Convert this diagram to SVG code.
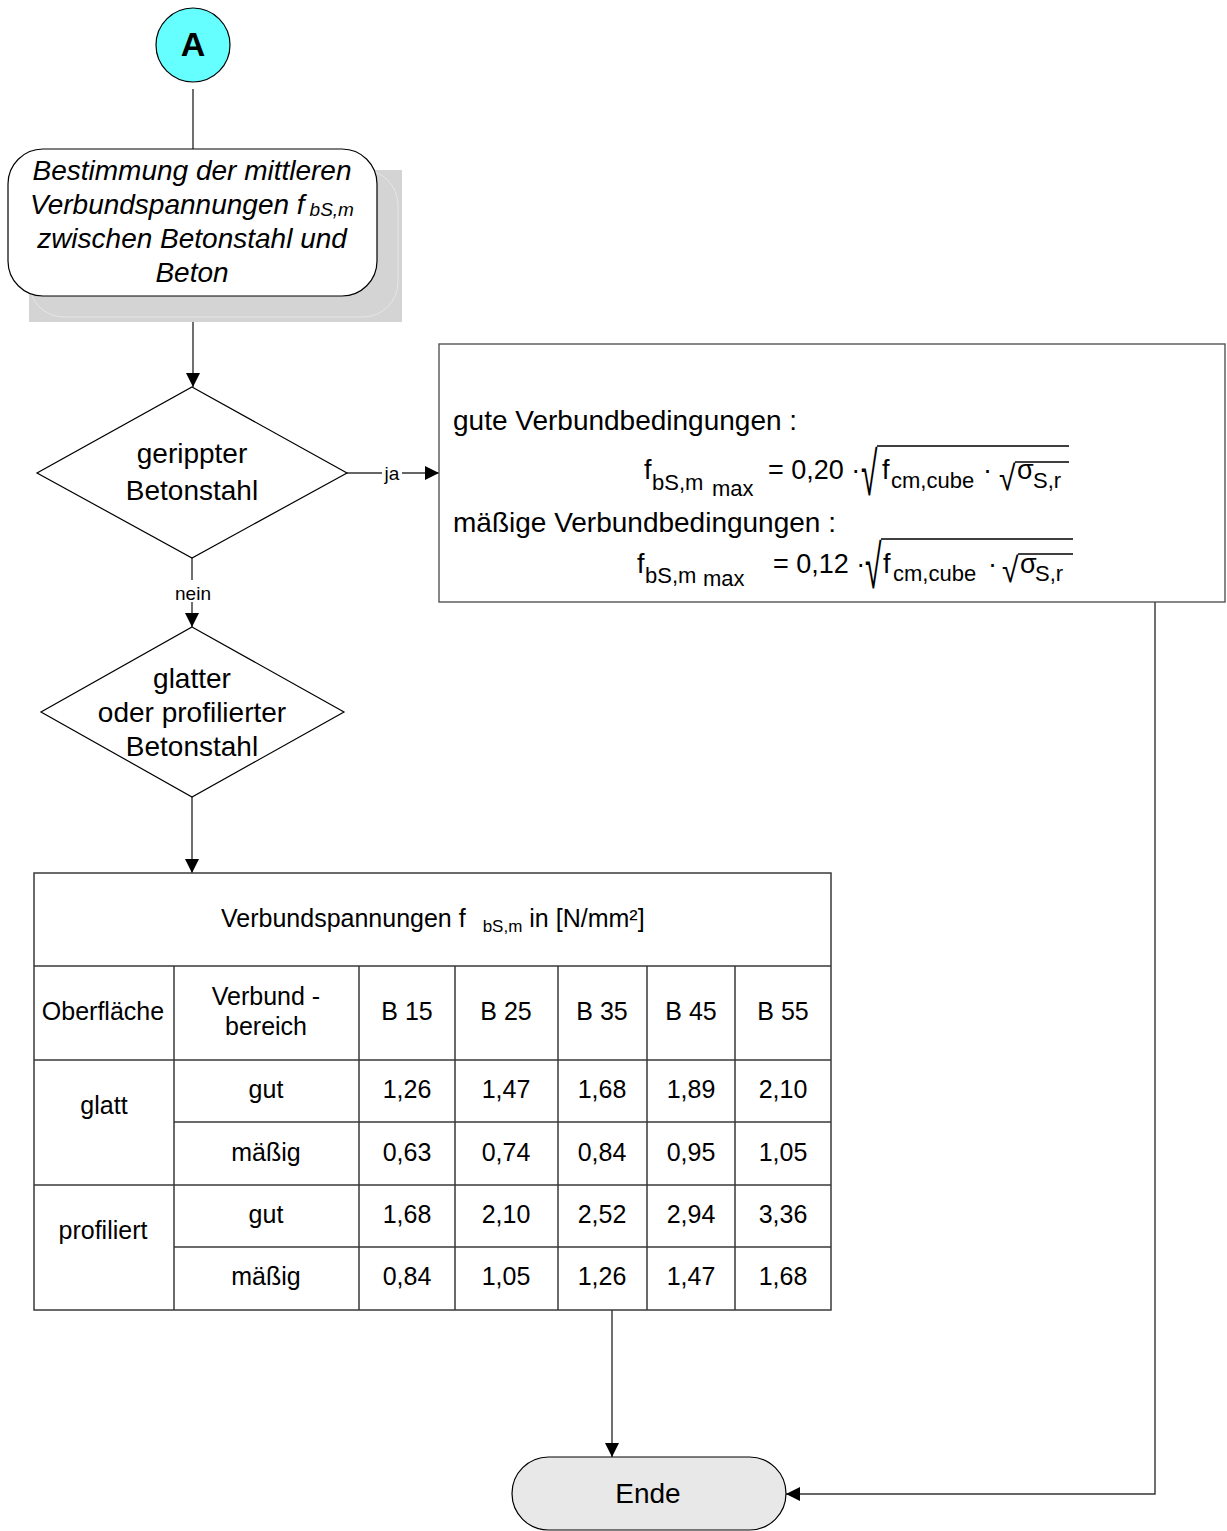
<svg xmlns="http://www.w3.org/2000/svg" width="1227" height="1531" viewBox="0 0 1227 1531">
<defs>
<marker id="arr" markerUnits="userSpaceOnUse" markerWidth="14" markerHeight="14" refX="14" refY="7" orient="auto">
<path d="M0,0 L14,7 L0,14 z" fill="#000"/>
</marker>
<style>
text{font-family:"Liberation Sans",Arial,sans-serif;fill:#000}
.c{text-anchor:middle}
.shape{fill:#fff;stroke:#000;stroke-width:1.2}
.conn{fill:none;stroke:#333;stroke-width:1.4}
.tl{stroke:#3a3a3a;stroke-width:1.5;fill:none}
.cell{font-size:25px;text-anchor:middle}
.big{font-size:28px}
.f{font-size:27px}
.h{font-size:28px}
.sub{font-size:22px}
.rad{font-size:30px}
.vin{stroke:#000;stroke-width:1.6}
</style>
</defs>
<rect width="1227" height="1531" fill="#fff"/>

<g id="connectors">
<path class="conn" d="M193,89 V149"/>
<path class="conn" d="M193,296 V387" marker-end="url(#arr)"/>
<path class="conn" d="M347,473 H439" marker-end="url(#arr)"/>
<rect x="382" y="462" width="20" height="22" fill="#fff"/>
<text x="392" y="480" class="c" style="font-size:19px">ja</text>
<path class="conn" d="M192,558 V627" marker-end="url(#arr)"/>
<rect x="170" y="580" width="46" height="22" fill="#fff"/>
<text x="193" y="600" class="c" style="font-size:19px">nein</text>
<path class="conn" d="M192,797 V873" marker-end="url(#arr)"/>
<path class="conn" d="M612,1310 V1457" marker-end="url(#arr)"/>
<path class="conn" d="M1155,602 V1494 H786" marker-end="url(#arr)"/>
</g>

<g id="nodeA">
<circle cx="193" cy="45" r="37" fill="#66ffff" stroke="#000" stroke-width="1.2"/>
<text x="193" y="56" class="c" style="font-size:34px;font-weight:bold">A</text>
</g>

<g id="process">
<rect x="29" y="170" width="373" height="152" fill="#d4d4d4"/>
<rect x="29" y="170" width="369" height="147" rx="35" fill="none" stroke="#e6e6e6" stroke-width="1"/>
<rect x="8" y="149" width="369" height="147" rx="35" class="shape"/>
<g style="font-style:italic;font-size:28px" class="c">
<text x="192" y="180">Bestimmung der mittleren</text>
<text x="192" y="214">Verbundspannungen f<tspan style="font-size:19px" dx="5" dy="2">bS,m</tspan></text>
<text x="192" y="248">zwischen Betonstahl und</text>
<text x="192" y="282">Beton</text>
</g>
</g>

<g id="decision1">
<polygon class="shape" points="192,387 347,473 192,558 37,473"/>
<text x="192" y="463" class="c big">gerippter</text>
<text x="192" y="500" class="c big">Betonstahl</text>
</g>

<g id="decision2">
<polygon class="shape" points="192,627 344,712 192,797 41,712"/>
<text x="192" y="688" class="c big">glatter</text>
<text x="192" y="722" class="c big">oder profilierter</text>
<text x="192" y="756" class="c big">Betonstahl</text>
</g>

<g id="formulas">
<rect x="439" y="344" width="786" height="258" fill="#fff" stroke="#555" stroke-width="1.4"/>
<text x="453" y="430" class="h">gute Verbundbedingungen :</text>
<text x="644" y="479" class="f">f</text>
<text x="652" y="490" class="sub">bS,m</text>
<text x="712" y="496" class="sub">max</text>
<text x="768" y="479" class="f">= 0,20 ·</text>
<text class="rad" transform="translate(861,495) scale(1,2.04)">√</text>
<line class="vin" x1="877" y1="446" x2="1069" y2="446"/>
<text x="882" y="479" class="f">f</text>
<text x="891" y="488" class="sub">cm,cube</text>
<text x="983" y="479" class="f">·</text>
<text class="rad" transform="translate(999,490) scale(1,1.17)">√</text>
<line class="vin" x1="1015" y1="462" x2="1069" y2="462"/>
<text x="1017" y="479" class="f">σ</text>
<text x="1033" y="488" class="sub">S,r</text>

<text x="453" y="532" class="h">mäßige Verbundbedingungen :</text>
<text x="637" y="573" class="f">f</text>
<text x="645" y="583" class="sub">bS,m</text>
<text x="703" y="586" class="sub">max</text>
<text x="773" y="573" class="f">= 0,12 ·</text>
<text class="rad" transform="translate(865,588) scale(1,2.04)">√</text>
<line class="vin" x1="881" y1="539" x2="1073" y2="539"/>
<text x="883" y="573" class="f">f</text>
<text x="893" y="581" class="sub">cm,cube</text>
<text x="988" y="573" class="f">·</text>
<text class="rad" transform="translate(1002,582) scale(1,1.17)">√</text>
<line class="vin" x1="1018" y1="554" x2="1073" y2="554"/>
<text x="1020" y="573" class="f">σ</text>
<text x="1035" y="581" class="sub">S,r</text>
</g>

<g id="table">
<rect x="34" y="873" width="797" height="437" fill="#fff" class="tl"/>
<path class="tl" d="M34,966 H831 M174,1060 H831 M34,1060 H174 M174,1122 H831 M34,1185 H831 M174,1247 H831 M174,966 V1310 M359,966 V1310 M455,966 V1310 M558,966 V1310 M647,966 V1310 M735,966 V1310"/>
<text x="221" y="927" style="font-size:25px">Verbundspannungen f <tspan style="font-size:17px" dx="10" dy="5">bS,m</tspan><tspan dy="-5" dx="7">in [N/mm²]</tspan></text>
<text x="103" y="1020" class="cell">Oberfläche</text>
<text x="266" y="1005" class="cell">Verbund -</text>
<text x="266" y="1035" class="cell">bereich</text>
<text x="407" y="1020" class="cell">B 15</text>
<text x="506" y="1020" class="cell">B 25</text>
<text x="602" y="1020" class="cell">B 35</text>
<text x="691" y="1020" class="cell">B 45</text>
<text x="783" y="1020" class="cell">B 55</text>
<text x="104" y="1114" class="cell">glatt</text>
<text x="103" y="1239" class="cell">profiliert</text>
<text x="266" y="1098" class="cell">gut</text>
<text x="266" y="1161" class="cell">mäßig</text>
<text x="266" y="1223" class="cell">gut</text>
<text x="266" y="1285" class="cell">mäßig</text>
<text x="407" y="1098" class="cell">1,26</text>
<text x="506" y="1098" class="cell">1,47</text>
<text x="602" y="1098" class="cell">1,68</text>
<text x="691" y="1098" class="cell">1,89</text>
<text x="783" y="1098" class="cell">2,10</text>
<text x="407" y="1161" class="cell">0,63</text>
<text x="506" y="1161" class="cell">0,74</text>
<text x="602" y="1161" class="cell">0,84</text>
<text x="691" y="1161" class="cell">0,95</text>
<text x="783" y="1161" class="cell">1,05</text>
<text x="407" y="1223" class="cell">1,68</text>
<text x="506" y="1223" class="cell">2,10</text>
<text x="602" y="1223" class="cell">2,52</text>
<text x="691" y="1223" class="cell">2,94</text>
<text x="783" y="1223" class="cell">3,36</text>
<text x="407" y="1285" class="cell">0,84</text>
<text x="506" y="1285" class="cell">1,05</text>
<text x="602" y="1285" class="cell">1,26</text>
<text x="691" y="1285" class="cell">1,47</text>
<text x="783" y="1285" class="cell">1,68</text>
</g>

<g id="ende">
<rect x="512" y="1457" width="274" height="73" rx="36.5" fill="#e8e8e8" stroke="#000" stroke-width="1.2"/>
<text x="648" y="1503" class="c big">Ende</text>
</g>
</svg>
